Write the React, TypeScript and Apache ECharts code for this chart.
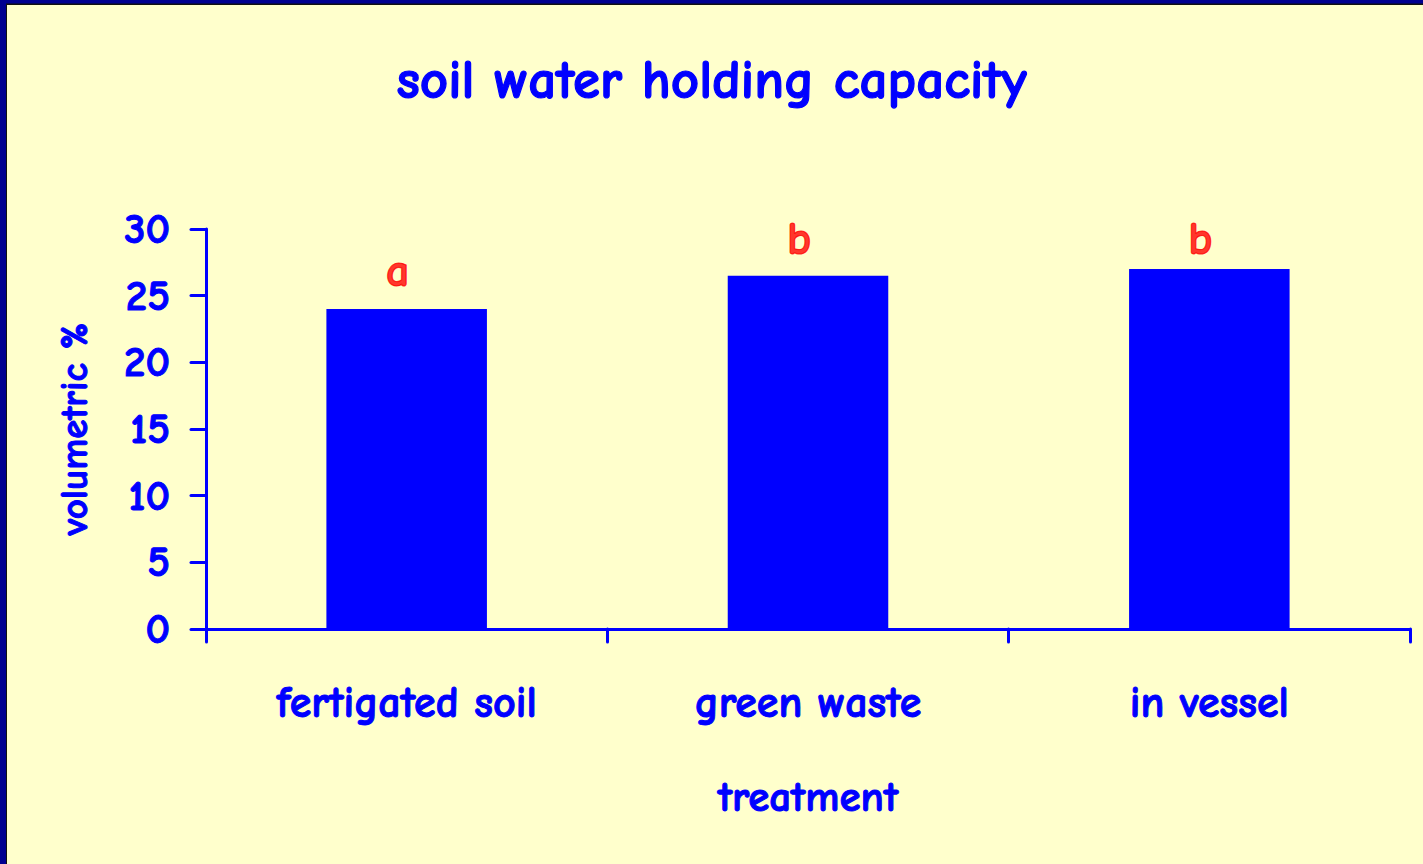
import React, { useEffect, useRef } from "react";
import * as echarts from "echarts";

const categories = ["fertigated soil", "green waste", "in vessel"];
const waterHolding = [24.0, 26.5, 27.0];
const sigLetters = ["a", "b", "b"];
const sigLetterHeights = [26.8, 29.2, 29.2];
const yTicks = { min: 0, max: 30, interval: 5 };

const FONT = '"Comic Sans MS", "Comic Neue", "DejaVu Sans", sans-serif';
const BLUE = "#0000FF";
const boldBlue = { color: BLUE, fontFamily: FONT, fontWeight: "bold", textBorderColor: BLUE, textBorderWidth: 1 };

export default function App() {
  const ref = useRef<HTMLDivElement>(null);
  useEffect(() => {
    document.body.style.margin = "0";
    const chart = echarts.init(ref.current!, null, { renderer: "svg" });
    chart.setOption({
      animation: false,
      backgroundColor: "#FFFFCC",
      graphic: [
        { type: "rect", shape: { x: 0, y: 0, width: 1423, height: 864 }, style: { fill: "#000090" }, z: -10, silent: true },
        { type: "rect", shape: { x: 6, y: 3.5, width: 1417, height: 860.5 }, style: { fill: "#111111" }, z: -9, silent: true },
        { type: "rect", shape: { x: 7, y: 5, width: 1416, height: 859 }, style: { fill: "#FFFFCC" }, z: -8, silent: true },
      ],
      title: {
        text: "soil water holding capacity",
        left: "center",
        top: 47,
        textStyle: { ...boldBlue, fontSize: 55, textBorderWidth: 1.2 },
      },
      grid: { left: 206, right: 13, top: 229, bottom: 235, containLabel: false },
      xAxis: {
        type: "category",
        data: categories,
        boundaryGap: true,
        name: "treatment",
        nameLocation: "middle",
        nameGap: 146,
        nameTextStyle: { ...boldBlue, fontSize: 43 },
        axisLine: { lineStyle: { color: BLUE, width: 3, cap: "round" } },
        axisTick: { show: true, interval: 0, length: 13, lineStyle: { color: BLUE, width: 3, cap: "round" } },
        axisLabel: { ...boldBlue, fontSize: 44, margin: 51, interval: 0 },
        splitLine: { show: false },
      },
      yAxis: {
        type: "value",
        min: yTicks.min,
        max: yTicks.max,
        interval: yTicks.interval,
        name: "volumetric %",
        nameLocation: "middle",
        nameGap: 112,
        nameRotate: 90,
        nameTextStyle: { ...boldBlue, fontSize: 39 },
        axisLine: { show: true, lineStyle: { color: BLUE, width: 3, cap: "round" } },
        axisTick: { show: true, length: 15, lineStyle: { color: BLUE, width: 3, cap: "round" } },
        axisLabel: { ...boldBlue, fontSize: 43, margin: 36 },
        splitLine: { show: false },
      },
      series: [
        {
          type: "bar",
          data: waterHolding,
          barWidth: "40%",
          itemStyle: { color: BLUE },
          z: 2,
        },
        {
          type: "scatter",
          data: sigLetterHeights.map((v, i) => [categories[i], v]),
          symbolSize: 1,
          itemStyle: { color: "rgba(0,0,0,0)" },
          label: {
            show: true,
            position: "inside",
            offset: [-9, 0],
            formatter: (p: any) => sigLetters[p.dataIndex],
            color: "#FF0000",
            fontFamily: FONT,
            fontWeight: "bold",
            fontSize: 46,
            textBorderColor: "#FF0000",
            textBorderWidth: 1.2,
            textShadowColor: "#000000",
            textShadowOffsetX: 2,
            textShadowOffsetY: 2,
            textShadowBlur: 0,
          },
          z: 3,
        },
      ],
    });
    return () => chart.dispose();
  }, []);
  return <div ref={ref} style={{ position: "absolute", left: 0, top: 0, width: 1423, height: 864 }} />;
}
